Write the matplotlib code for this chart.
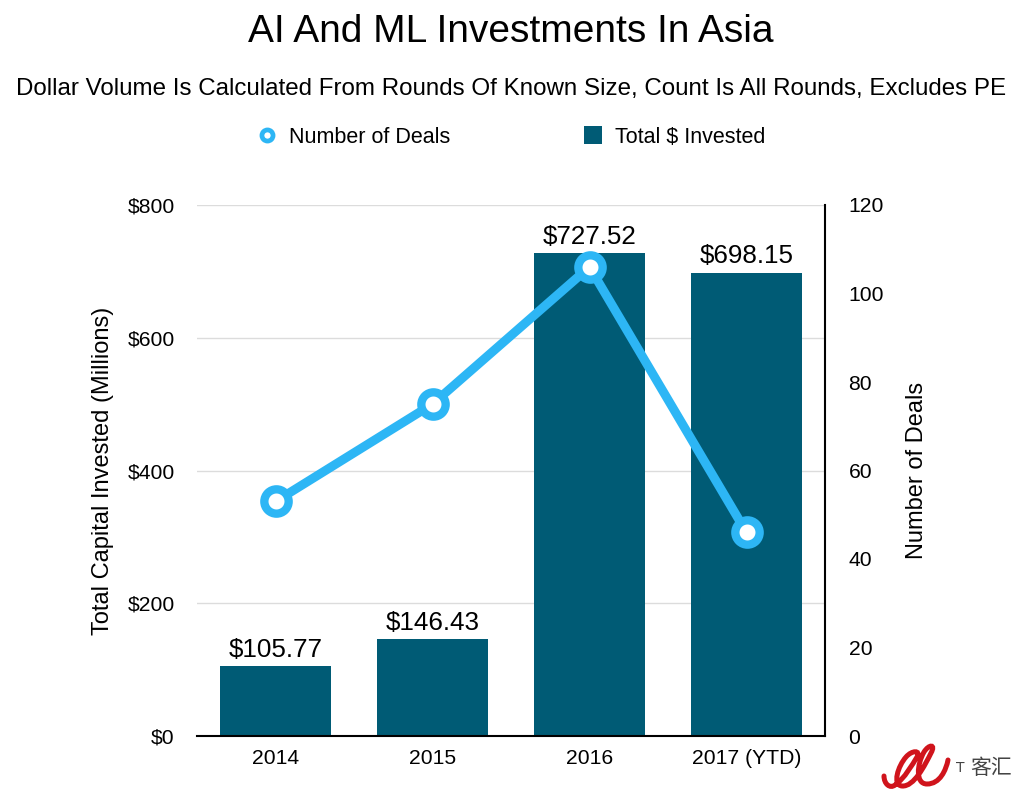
"""AI and ML investments in Asia: bars for dollars, line for deal count."""

import matplotlib
matplotlib.use("Agg")
import matplotlib.pyplot as plt
import numpy as np
from matplotlib.lines import Line2D
from matplotlib.patches import Patch, PathPatch
from matplotlib.path import Path

years = ["2014", "2015", "2016", "2017 (YTD)"]
invested = [105.77, 146.43, 727.52, 698.15]
deals = [53, 75, 106, 46]
left_ticks = [0, 200, 400, 600, 800]
right_ticks = [0, 20, 40, 60, 80, 100, 120]

BAR = "#005b75"
LINE = "#2db6f5"
W, H = 1024, 799

plt.rcParams["font.family"] = ["Liberation Sans", "DejaVu Sans"]

fig = plt.figure(figsize=(W / 100, H / 100), dpi=100)
ax = fig.add_axes([197 / W, 1 - 736 / H, 628 / W, 531 / H])
x = np.arange(len(years))

ax.bar(x, invested, 0.71, color=BAR, zorder=2)
ax.set_xlim(-0.5, 3.5)
ax.set_ylim(0, 800)
ax.set_xticks(x, years)
ax.set_yticks(left_ticks, [f"${v}" for v in left_ticks])
ax.tick_params(length=0, labelsize=15.2, colors="black")
ax.tick_params(axis="x", pad=9)
ax.tick_params(axis="y", pad=16)
ax.grid(axis="y", color="#dcdcdc", linewidth=1, zorder=0)
ax.set_axisbelow(True)
ax.spines[["top", "left", "right"]].set_visible(False)
ax.spines["bottom"].set_linewidth(1.5)
ax.set_ylabel("Total Capital Invested (Millions)", fontsize=17, labelpad=9.5)

for pos, value in zip(x, invested):
    ax.annotate(f"${value:.2f}", (pos, value), xytext=(0, 3), textcoords="offset points",
                ha="center", va="bottom", fontsize=18.7, zorder=5)

right = ax.twinx()
right.plot(x, deals, color=LINE, linewidth=6.5, marker="o", markersize=17.5,
           markerfacecolor="white", markeredgecolor=LINE, markeredgewidth=6,
           solid_capstyle="round", zorder=4)
right.set_ylim(0, 120)
right.set_yticks(right_ticks)
right.tick_params(length=0, labelsize=15.2, pad=17)
right.spines[["top", "left", "bottom"]].set_visible(False)
right.spines["right"].set_linewidth(1.5)
right.set_ylabel("Number of Deals", fontsize=17, labelpad=15.5)

fig.text(511 / W, 1 - 32 / H, "AI And ML Investments In Asia", ha="center", va="center", fontsize=28)
fig.text(511 / W, 1 - 89 / H,
         "Dollar Volume Is Calculated From Rounds Of Known Size, Count Is All Rounds, Excludes PE",
         ha="center", va="center", fontsize=17.35)

handles = [
    Line2D([], [], linestyle="none", marker="o", markersize=8, markerfacecolor="white",
           markeredgecolor=LINE, markeredgewidth=3.4),
    Patch(facecolor=BAR),
]
fig.legend(handles, ["Number of Deals", "Total $ Invested"], loc="center",
           bbox_to_anchor=(512 / W, 1 - 137 / H), ncol=2, frameon=False, fontsize=15.5,
           columnspacing=6.2, handlelength=0.85, handleheight=0.85, handletextpad=0.6)

# watermark in the bottom right corner
logo = fig.add_axes([880 / W, 1 - 792 / H, 144 / W, 50 / H])
logo.set_xlim(880, 1024)
logo.set_ylim(792, 742)
logo.axis("off")
stroke = [(884, 776),
          (884, 784), (890, 789), (895, 785),
          (905, 778), (912, 765), (917, 757),
          (921, 750), (912, 750), (906, 757),
          (898, 766), (892, 785), (902, 786),
          (914, 787), (925, 765), (931, 753),
          (936, 744), (929, 744), (924, 752),
          (917, 764), (915, 784), (927, 784),
          (940, 784), (946, 770), (948, 760)]
codes = [Path.MOVETO] + [Path.CURVE4] * (len(stroke) - 1)
logo.add_patch(PathPatch(Path(stroke, codes), fill=False, edgecolor="#d0141c", linewidth=3.6,
                         capstyle="round"))
logo.text(956, 768, "T", family=["DejaVu Sans"], fontsize=10, color="#444444", ha="left", va="center")
logo.text(970, 768, "客汇", family=["Noto Sans CJK SC", "DejaVu Sans"], fontsize=15,
          color="#444444", ha="left", va="center")

fig.savefig("out.png", dpi=100)
